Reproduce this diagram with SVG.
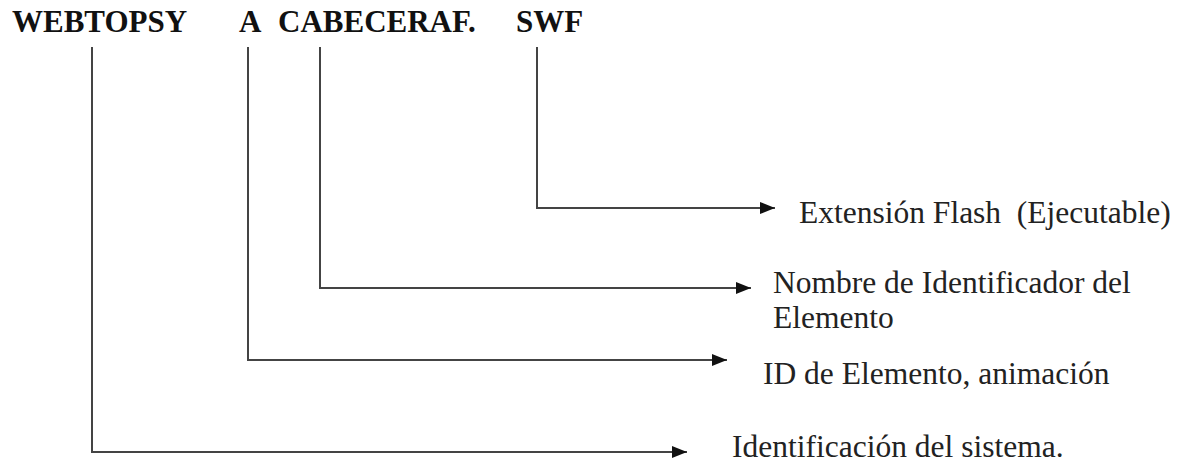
<svg xmlns="http://www.w3.org/2000/svg" width="1189" height="465" viewBox="0 0 1189 465">
  <style>
    .title { font-family: "Liberation Serif", "Times New Roman", serif; font-weight: bold; font-size: 31px; fill: #111; }
    .label { font-family: "Liberation Serif", "Times New Roman", serif; font-size: 31.5px; fill: #222; white-space: pre; }
    .conn { fill: none; stroke: #444; stroke-width: 2; }
  </style>
  <defs>
    <marker id="arrow" markerUnits="userSpaceOnUse" markerWidth="16" markerHeight="12" refX="15" refY="6" orient="auto">
      <path d="M0,0 L15,6 L0,12 z" fill="#111"/>
    </marker>
  </defs>
  <rect width="1189" height="465" fill="#fff"/>

  <g id="node-webtopsy"><text class="title" x="12" y="32">WEBTOPSY</text></g>
  <g id="node-a"><text class="title" x="239" y="32">A</text></g>
  <g id="node-cabeceraf"><text class="title" x="278" y="32">CABECERAF.</text></g>
  <g id="node-swf"><text class="title" x="516" y="32">SWF</text></g>

  <g id="node-ext"><text class="label" x="799" y="223" xml:space="preserve">Extensión Flash  (Ejecutable)</text></g>
  <g id="node-nombre">
    <text class="label" x="773" y="293">Nombre de Identificador del</text>
    <text class="label" x="773" y="328">Elemento</text>
  </g>
  <g id="node-id"><text class="label" x="763" y="384">ID de Elemento, animación</text></g>
  <g id="node-ident"><text class="label" x="732" y="457">Identificación del sistema.</text></g>

  <g id="connectors">
    <path class="conn" d="M537,47 L537,208 L775,208" marker-end="url(#arrow)"/>
    <path class="conn" d="M320,47 L320,288 L751,288" marker-end="url(#arrow)"/>
    <path class="conn" d="M248,47 L248,360 L727,360" marker-end="url(#arrow)"/>
    <path class="conn" d="M92,47 L92,452 L687,452" marker-end="url(#arrow)"/>
  </g>
</svg>
